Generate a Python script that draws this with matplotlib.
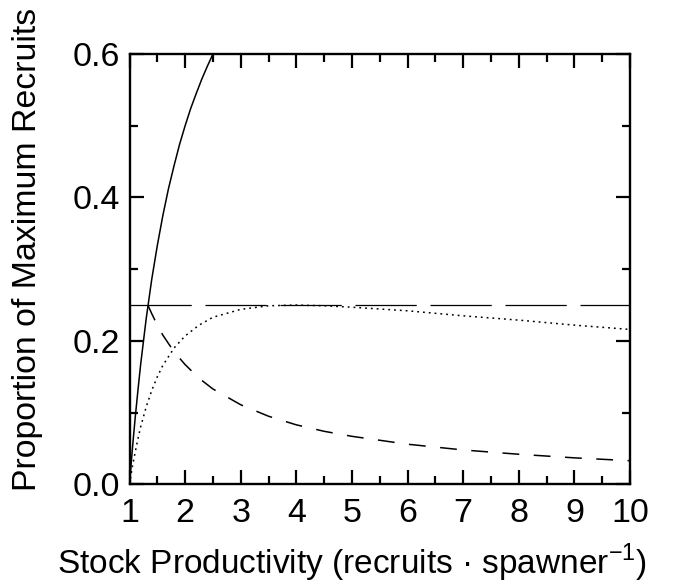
import matplotlib
matplotlib.use('Agg')
import matplotlib.pyplot as plt
from matplotlib.ticker import MultipleLocator

plt.rcParams['font.family'] = ['Liberation Sans', 'DejaVu Sans']
plt.rcParams['mathtext.fontset'] = 'custom'
plt.rcParams['mathtext.rm'] = 'Liberation Sans'

# solid curve (rises steeply, leaves the frame at 0.6)
solid_x = [1.0, 1.05, 1.1, 1.15, 1.2, 1.3, 1.4, 1.5, 1.6, 1.7, 1.8, 1.9, 2.0, 2.1, 2.2, 2.3, 2.4, 2.5]
solid_y = [0.0, 0.048, 0.091, 0.130, 0.167, 0.231, 0.286, 0.333, 0.375, 0.412, 0.444, 0.474,
           0.500, 0.524, 0.545, 0.565, 0.583, 0.600]

# dashed curve (declining, starts where the solid crosses 0.25)
dash_x = [1.33, 1.4, 1.5, 1.6, 1.8, 2.0, 2.25, 2.5, 3.0, 3.5, 4.0, 4.5, 5.0, 6.0, 7.0, 8.0, 9.0, 10.0]
dash_y = [0.250, 0.238, 0.222, 0.208, 0.185, 0.167, 0.148, 0.133, 0.111, 0.095, 0.083, 0.074,
          0.067, 0.056, 0.048, 0.042, 0.037, 0.033]

# dotted curve (peaks at 0.25 near x=4)
dot_x = [1.0, 1.02, 1.05, 1.1, 1.15, 1.2, 1.3, 1.4, 1.5, 1.6, 1.8, 2.0, 2.25, 2.5, 3.0, 3.5,
         4.0, 4.5, 5.0, 6.0, 7.0, 8.0, 9.0, 10.0]
dot_y = [0.0, 0.010, 0.024, 0.044, 0.063, 0.080, 0.108, 0.131, 0.150, 0.166, 0.190, 0.207,
         0.222, 0.233, 0.244, 0.249, 0.250, 0.249, 0.247, 0.242, 0.235, 0.229, 0.222, 0.216]

# horizontal reference level
ref_x = [1.0, 10.0]
ref_y = [0.25, 0.25]

fig = plt.figure(figsize=(6.97, 5.87), dpi=100)
ax = fig.add_axes([0.1858, 0.1748, 0.7182, 0.7332])

ax.plot(solid_x, solid_y, color='black', lw=1.1, solid_capstyle='butt')
ax.plot(ref_x, ref_y, color='black', lw=0.9, dashes=(49, 11))
ax.plot(dash_x, dash_y, color='black', lw=1.1, dashes=(11, 9.5))
ax.plot(dot_x, dot_y, color='black', lw=1.1, dashes=(1.2, 2.6))

ax.set_xlim(1, 10)
ax.set_ylim(0, 0.6)
ax.set_xticks(range(1, 11))
ax.set_yticks([0.0, 0.2, 0.4, 0.6])
ax.set_yticklabels(['0.0', '0.2', '0.4', '0.6'])
ax.xaxis.set_minor_locator(MultipleLocator(0.5))
ax.yaxis.set_minor_locator(MultipleLocator(0.1))

ax.tick_params(which='both', direction='in', top=True, right=True, width=1.6,
               labelsize=24.5, pad=7)
ax.tick_params(axis='x', pad=10)
ax.tick_params(which='major', length=10)
ax.tick_params(which='minor', length=5.5)
for sp in ax.spines.values():
    sp.set_linewidth(1.7)

ax.set_xlabel('Stock Productivity (recruits \u00b7 spawner$^{\\mathregular{-1}}$)', fontsize=24)
ax.set_ylabel('Proportion of Maximum Recruits', fontsize=24.4)
ax.xaxis.set_label_coords(0.4446, -0.134)
ax.yaxis.set_label_coords(-0.173, 0.547)

fig.savefig('out.png', dpi=100)
